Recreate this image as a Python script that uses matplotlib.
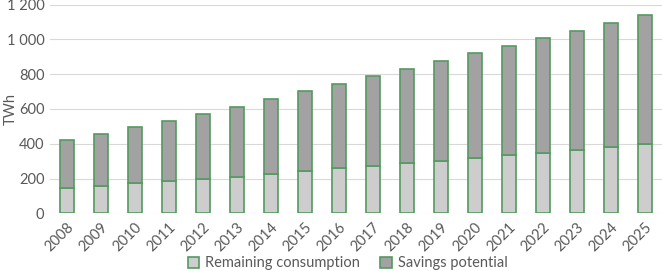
import numpy as np
import matplotlib.pyplot as plt

plt.rcParams['font.family'] = ['Lato', 'DejaVu Sans']

years = [str(y) for y in range(2008, 2026)]
remaining = [147, 159, 173, 184, 197, 211, 228, 243, 259, 274, 290, 303, 318, 335, 349, 366, 383, 397]
savings = [275, 297, 322, 346, 374, 403, 432, 461, 487, 516, 542, 574, 603, 628, 658, 685, 711, 743]

txt = '#595959'
edge = '#559a60'
fs = 10.5

fig = plt.figure(figsize=(6.62, 2.71), dpi=100)
ax = fig.add_axes([0.0755, 0.213, 0.9245, 0.7697])

x = np.arange(len(years))
ax.bar(x, remaining, width=0.42, color='#cdcdcd', edgecolor=edge, linewidth=1.2,
       label='Remaining consumption', zorder=3)
ax.bar(x, savings, width=0.42, bottom=remaining, color='#a2a2a2', edgecolor=edge,
       linewidth=1.2, label='Savings potential', zorder=3)

ax.set_xlim(-0.5, len(years) - 0.5)
ax.set_ylim(0, 1200)
ax.set_yticks(range(0, 1201, 200))
ax.set_yticklabels(['0', '200', '400', '600', '800', '1 000', '1 200'])
ax.set_xticks(x)
ax.set_xticklabels(years, rotation=45, ha='right', rotation_mode='anchor')
ax.grid(axis='y', color='#d9d9d9', linewidth=0.8, zorder=0)
for s in ax.spines.values():
    s.set_visible(False)
ax.tick_params(length=0, labelsize=fs, colors=txt, pad=4)
ax.tick_params(axis='x', pad=5)
ax.set_ylabel('TWh', fontsize=fs, color=txt)
ax.yaxis.set_label_coords(-0.052, 0.5)

fig.legend(loc='center', bbox_to_anchor=(0.525, 0.028), ncol=2, frameon=False,
           fontsize=fs, labelcolor=txt, handlelength=0.8, handleheight=0.8,
           columnspacing=1.4, handletextpad=0.4)

fig.savefig('out.png', dpi=100)
